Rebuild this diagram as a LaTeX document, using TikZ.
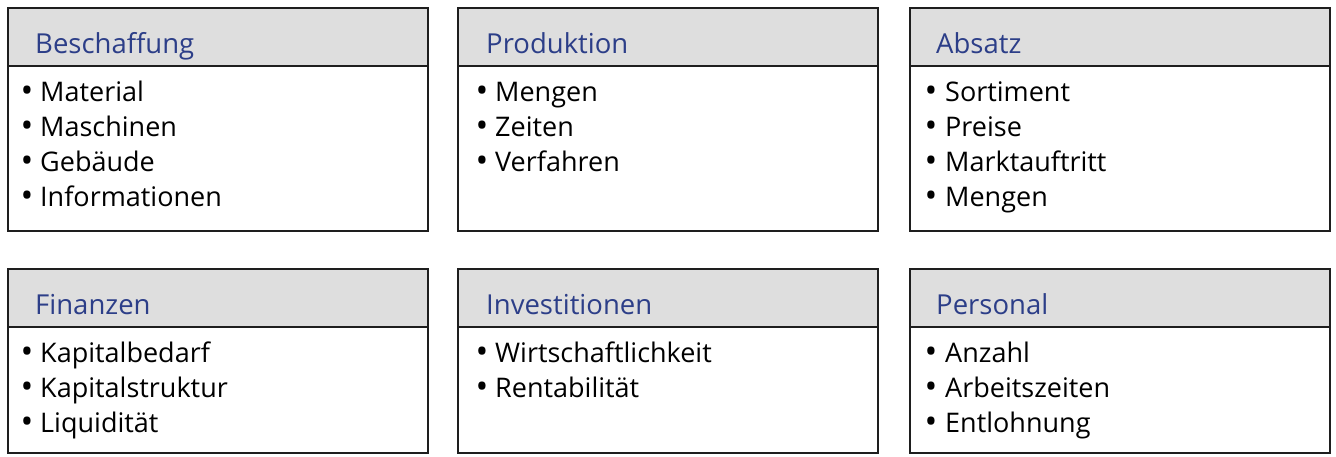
\documentclass[tikz,border=0pt]{standalone}
\usepackage{fontspec}
\setmainfont{Open Sans}
\usetikzlibrary{calc}
\definecolor{ttlblue}{HTML}{2C3E88}
\definecolor{hdrgray}{HTML}{DEDEDE}
\definecolor{frame}{HTML}{1E1E1E}
\tikzset{
  hdrbox/.style={draw=frame, fill=hdrgray, line width=2pt, minimum width=420pt, minimum height=58pt, inner sep=0pt, outer sep=0pt},
  bodybox/.style={draw=frame, fill=white, line width=2pt, minimum width=420pt, inner sep=0pt, outer sep=0pt},
  ttl/.style={text=ttlblue, font=\fontsize{27.5}{30}\selectfont, inner sep=0pt},
  itm/.style={text=black, font=\fontsize{27}{30}\selectfont, inner sep=0pt},
  bul/.style={text=black, font=\fontsize{34}{34}\selectfont, inner sep=0pt},
}
% #1 name, #2 x, #3 y, #4 body height, #5 title offset, #6 bullet offset, #7 text offset, #8 title, #9 items
\newcommand\panel[9]{%
  \node[hdrbox, anchor=north west] (#1h) at (#2,#3) {};
  \node[bodybox, anchor=north west, minimum height=#4pt] (#1b) at (#1h.south west) {};
  \node[ttl, anchor=base west] (#1t) at ($(#2,#3)+(#5,45)$) {#8};
  \foreach \itx [count=\i] in {#9} {
    \node[bul, anchor=base] (#1d\i) at ($(#2,#3)+(#6,59.5+35*\i)$) {•};
    \node[itm, anchor=base west] (#1i\i) at ($(#2,#3)+(#7,58+35*\i)$) {\itx};
  }
}
\begin{document}
\begin{tikzpicture}[x=1pt,y=-1pt]
\useasboundingbox (0,0) rectangle (1336,456);
\panel{a}{8}{8}{165}{27}{19}{32}{Beschaffung}{Material,Maschinen,Gebäude,Informationen}
\panel{b}{458}{8}{165}{28}{24}{37}{Produktion}{Mengen,Zeiten,Verfahren}
\panel{c}{910}{8}{165}{26}{21}{35}{Absatz}{Sortiment,Preise,Marktauftritt,Mengen}
\panel{d}{8}{269}{126}{27}{19}{32}{Finanzen}{Kapitalbedarf,Kapitalstruktur,Liquidität}
\panel{e}{458}{269}{126}{28}{24}{37}{Investitionen}{Wirtschaftlichkeit,Rentabilität}
\panel{f}{910}{269}{126}{26}{21}{35}{Personal}{Anzahl,Arbeitszeiten,Entlohnung}
\end{tikzpicture}
\end{document}
